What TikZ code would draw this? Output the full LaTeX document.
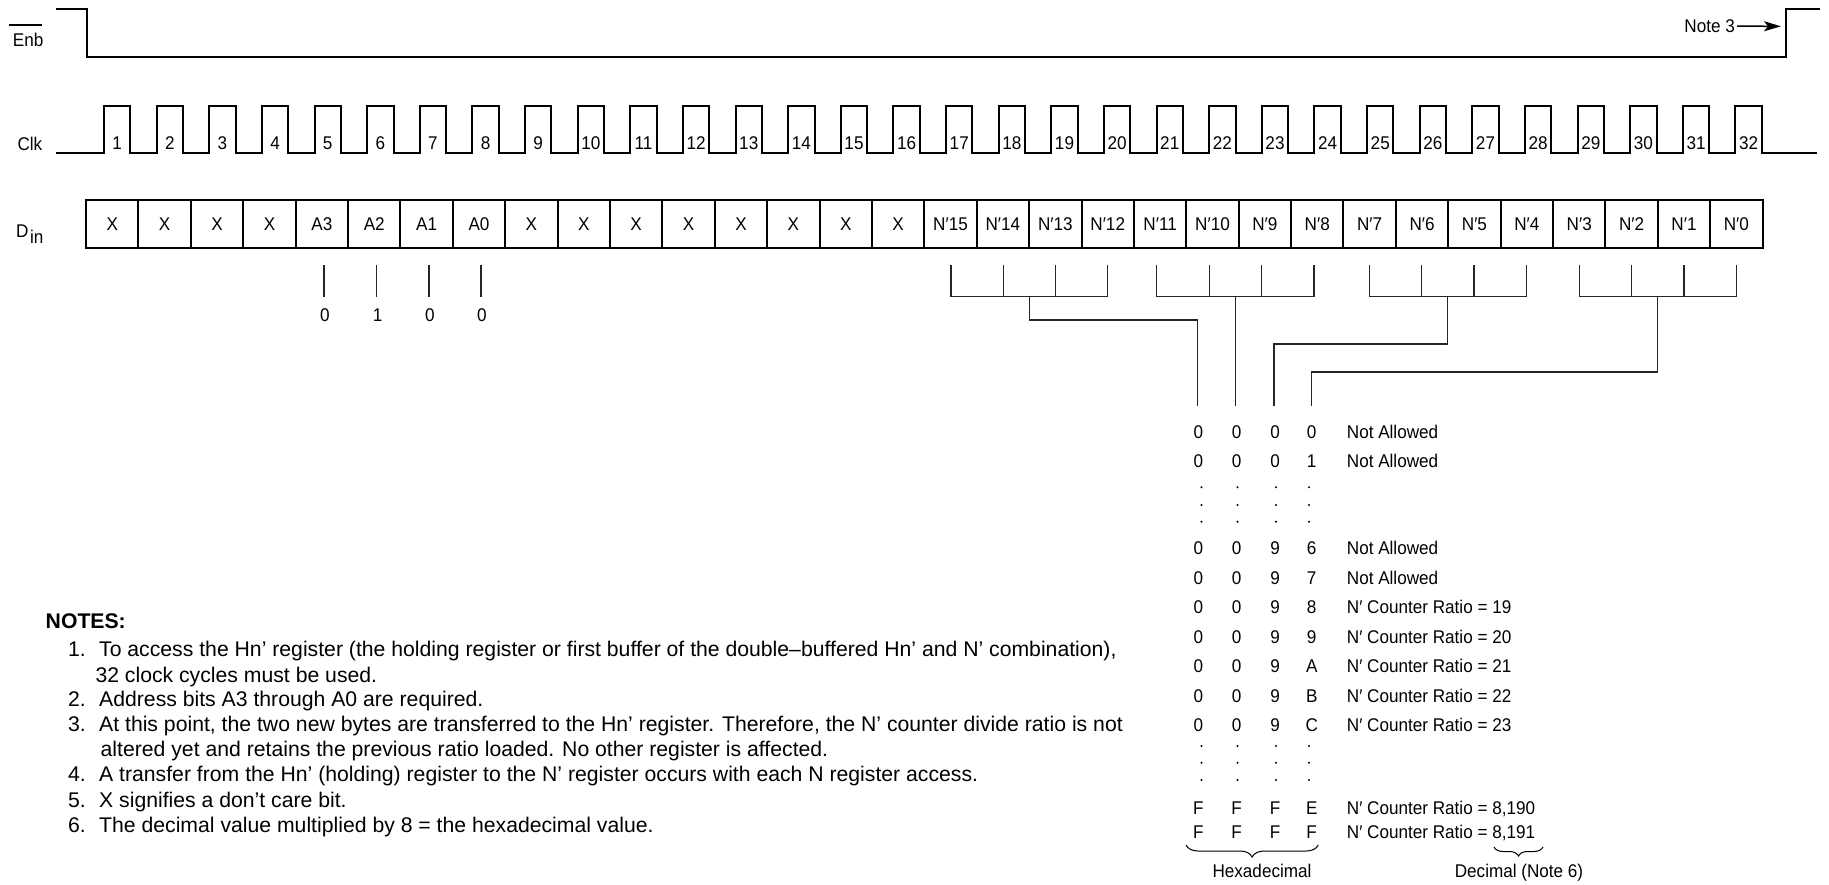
\documentclass[tikz,border=0pt]{standalone}
\usepackage{fontspec}
\setmainfont{Liberation Sans}
\newfontfamily\condfont{Liberation Sans}[FakeStretch=0.93]
\usetikzlibrary{decorations.pathreplacing,arrows.meta,calc}
\begin{document}
\begin{tikzpicture}[x=1pt,y=-1pt,
  lbl/.style={font=\condfont\fontsize{18.4}{20}\selectfont, inner sep=0pt},
  note/.style={font=\fontsize{21.2}{25}\selectfont, inner sep=0pt, anchor=base west},
  sig/.style={line width=2pt, line join=miter},
  cellbox/.style={draw, line width=2pt, minimum width=52.39pt, minimum height=48.3pt, inner sep=0pt, font=\condfont\fontsize{18.4}{20}\selectfont},
  thinl/.style={line width=1.1pt, draw=black!85},
  brc/.style={line width=1pt, decorate},
]
\useasboundingbox (0,0) rectangle (1829,884);

% ---------- Enb ----------
\node[lbl, anchor=base west] (enb) at (12.7,46.5) {Enb};
\draw[line width=1.2pt] ($(enb.north west)+(-3.4,-8)$) -- ($(enb.north east)+(-2,-8)$);
\draw[sig] (55.5,8.8) -- (87,8.8) -- (87,56.5) -- (1786,56.5) -- (1786,8.8) -- (1820,8.8);
\node[lbl, anchor=base east] (n3) at (1735,32.5) {Note 3};
\coordinate (n3tip) at (1781,26.3);
\draw[line width=1.5pt, -{Stealth[length=17pt,width=10pt,inset=4pt]}] ($(n3.east)+(2,0)$) -- (n3tip);

% ---------- Clk ----------
\node[lbl, anchor=base west] (clk) at (17.3,150) {Clk};
\draw[sig] (55.5,153.3)
  \foreach \i in {1,...,32}{ -- ({104.1+(\i-1)*52.625},153.3) -- ++(0,-47.6) -- ++(26.3,0) -- ++(0,47.6) }
  -- (1816.5,153.3);
\foreach \i in {1,...,32}
  \node[lbl, anchor=base] (c\i) at ({117.25+(\i-1)*52.625},149) {\i};

% ---------- Din ----------
\node[lbl, anchor=base west] (din) at (16,237.3) {D\hspace{1.5pt}\raisebox{-6pt}{in}};
\foreach \t [count=\i] in {X,X,X,X,A3,A2,A1,A0,X,X,X,X,X,X,X,X,
  N′15,N′14,N′13,N′12,N′11,N′10,N′9,N′8,N′7,N′6,N′5,N′4,N′3,N′2,N′1,N′0}
  \node[cellbox] (d\i) at ({86.1+(\i-0.5)*52.39},224.2) {\t};

% address bits
\foreach \x/\v in {324/0,376.7/1,429/0,481/0}{
  \draw[thinl] (\x,265) -- (\x,296.5);
  \node[lbl, anchor=base] at (\x+1,321.5) {\v};
}

% N' groups
\foreach \a/\b/\c/\d in {951/1003.3/1055.7/1107.7, 1156.7/1209.3/1261.7/1314,
                         1369.3/1421.4/1474/1526.1, 1579.3/1631.7/1684/1736.7}{
  \draw[thinl] (\a,265) |- (\d,296.5) -- (\d,265);
  \draw[thinl] (\b,265) -- (\b,296.5);
  \draw[thinl] (\c,265) -- (\c,296.5);
}
\coordinate (g1) at (1029.5,296.5);
\coordinate (g2) at (1235.5,296.5);
\coordinate (g3) at (1447.9,296.5);
\coordinate (g4) at (1657.7,296.5);
\coordinate (h1) at (1197.5,406);
\coordinate (h2) at (1235.5,406);
\coordinate (h3) at (1274,406);
\coordinate (h4) at (1311.6,406);
\draw[thinl] (g1) |- (h1 |- 0,320) -- (h1);
\draw[thinl] (g2) -- (h2);
\draw[thinl] (g3) |- (h3 |- 0,344) -- (h3);
\draw[thinl] (g4) |- (h4 |- 0,372) -- (h4);

% ---------- table ----------
\foreach \y/\a/\b/\c/\d/\t in {
  438.5/0/0/0/0/{Not Allowed},
  467.2/0/0/0/1/{Not Allowed},
  554.8/0/0/9/6/{Not Allowed},
  584.3/0/0/9/7/{Not Allowed},
  613.8/0/0/9/8/{N′ Counter Ratio = 19},
  643.3/0/0/9/9/{N′ Counter Ratio = 20},
  672.8/0/0/9/A/{N′ Counter Ratio = 21},
  702.3/0/0/9/B/{N′ Counter Ratio = 22},
  731.8/0/0/9/C/{N′ Counter Ratio = 23},
  814.5/F/F/F/E/{N′ Counter Ratio = 8,190},
  838/F/F/F/F/{N′ Counter Ratio = 8,191}}{
  \node[lbl, anchor=base] at (1198.3,\y) {\a};
  \node[lbl, anchor=base] at (1236.7,\y) {\b};
  \node[lbl, anchor=base] at (1275,\y) {\c};
  \node[lbl, anchor=base] at (1311.7,\y) {\d};
  \node[lbl, anchor=base west] at (1346.7,\y) {\t};
}
\foreach \y in {487.3,505,521.7,746,762.7,780}
  \foreach \x in {1201.5,1237.5,1276,1309}
    \fill (\x,\y) circle (1.1pt);

\draw[brc, decoration={brace, mirror, amplitude=12pt}] (1186,845) -- (1318.3,845);
\node[lbl, anchor=base] (hexl) at (1262,877) {Hexadecimal};
\draw[brc, decoration={brace, mirror, amplitude=9pt}] (1494,847) -- (1543,847);
\node[lbl, anchor=base] (decl) at (1519,877) {Decimal (Note 6)};

% ---------- notes ----------
\node[note, font=\fontsize{21.2}{25}\selectfont\bfseries] (notes) at (45.5,628) {NOTES:};
\foreach \n/\y in {1/656.5,2/706.5,3/731.5,4/781.5,5/807,6/832.5}
  \node[note] (num\n) at (68,\y) {\n.};
\node[note] at (99,656.5) {To access the Hn’ register (the holding register or first buffer of the double–buffered Hn’ and N’ combination),};
\node[note] at (95.3,682.5) {32 clock cycles must be used.};
\node[note] at (99,706.5) {Address bits A3 through A0 are required.};
\node[note] at (99,731.5) {At this point, the two new bytes are transferred to the Hn’ register. Therefore, the N’ counter divide ratio is not};
\node[note] at (100.5,756.5) {altered yet and retains the previous ratio loaded. No other register is affected.};
\node[note] at (99,781.5) {A transfer from the Hn’ (holding) register to the N’ register occurs with each N register access.};
\node[note] at (99,807) {X signifies a don’t care bit.};
\node[note] at (99,832.5) {The decimal value multiplied by 8 = the hexadecimal value.};
\end{tikzpicture}
\end{document}
